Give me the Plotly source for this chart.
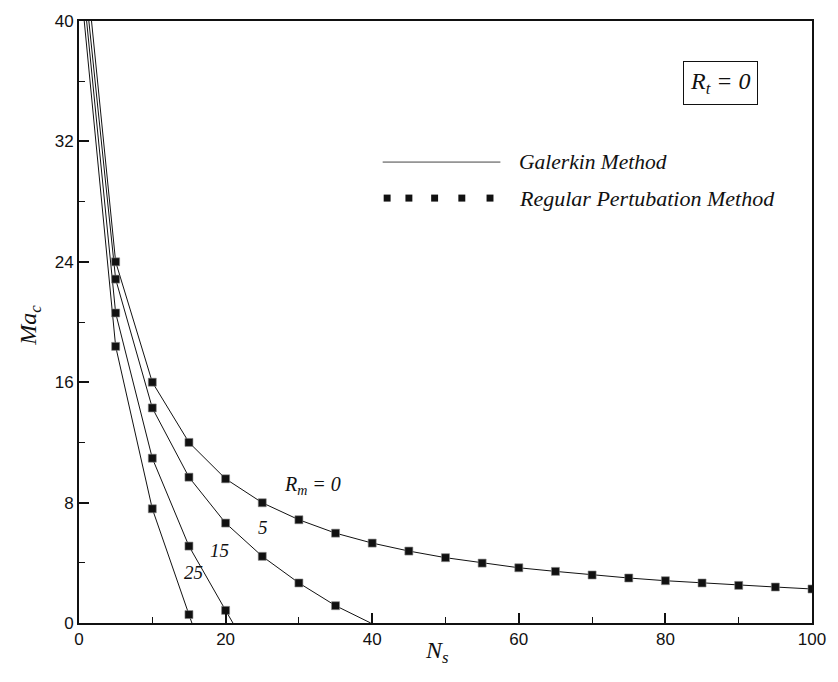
import plotly.graph_objects as go

# ---- data ----
# Galerkin method curves (lines)
gal_ns_rm0 = [0, 5, 10, 15, 20, 25, 30, 35, 40, 45, 50, 55, 60, 65, 70, 75, 80, 85, 90, 95, 100]
gal_ma_rm0 = [48.3, 24.0, 16.0, 12.0, 9.58, 7.99, 6.86, 5.97, 5.31, 4.78, 4.34, 3.98, 3.67, 3.43, 3.19, 2.99, 2.81, 2.66, 2.50, 2.39, 2.26]
gal_ns_rm5 = [0, 5, 10, 15, 20, 25, 30, 35, 39.8]
gal_ma_rm5 = [46.3, 22.85, 14.29, 9.69, 6.64, 4.43, 2.66, 1.15, 0.0]
gal_ns_rm15 = [0, 5, 10, 15, 20, 21.0]
gal_ma_rm15 = [45.1, 20.6, 10.95, 5.11, 0.84, 0.0]
gal_ns_rm25 = [0, 5, 10, 15, 15.4]
gal_ma_rm25 = [43.6, 18.38, 7.59, 0.56, 0.0]

# Regular perturbation method (square markers)
rp_ns_rm0 = [5, 10, 15, 20, 25, 30, 35, 40, 45, 50, 55, 60, 65, 70, 75, 80, 85, 90, 95, 100]
rp_ma_rm0 = [24.0, 16.0, 12.0, 9.58, 7.99, 6.86, 5.97, 5.31, 4.78, 4.34, 3.98, 3.67, 3.43, 3.19, 2.99, 2.81, 2.66, 2.50, 2.39, 2.26]
rp_ns_rm5 = [5, 10, 15, 20, 25, 30, 35]
rp_ma_rm5 = [22.85, 14.29, 9.69, 6.64, 4.43, 2.66, 1.15]
rp_ns_rm15 = [5, 10, 15, 20]
rp_ma_rm15 = [20.6, 10.95, 5.11, 0.84]
rp_ns_rm25 = [5, 10, 15]
rp_ma_rm25 = [18.38, 7.59, 0.56]

x_ticks = [0, 20, 40, 60, 80, 100]
y_ticks = [0, 8, 16, 24, 32, 40]

SERIF = "Liberation Serif, Times New Roman, serif"
SANS = "Liberation Sans"

fig = go.Figure()

for xs, ys in [(gal_ns_rm0, gal_ma_rm0), (gal_ns_rm5, gal_ma_rm5),
               (gal_ns_rm15, gal_ma_rm15), (gal_ns_rm25, gal_ma_rm25)]:
    fig.add_trace(go.Scatter(x=xs, y=ys, mode="lines",
                             line=dict(color="#111111", width=1),
                             showlegend=False, hoverinfo="skip"))

for xs, ys in [(rp_ns_rm0, rp_ma_rm0), (rp_ns_rm5, rp_ma_rm5),
               (rp_ns_rm15, rp_ma_rm15), (rp_ns_rm25, rp_ma_rm25)]:
    fig.add_trace(go.Scatter(x=xs, y=ys, mode="markers",
                             marker=dict(symbol="square", size=8, color="#111111",
                                         line=dict(width=0.6, color="#888888")),
                             showlegend=False))

# ---- geometry helpers (pixel -> paper) for legend decorations ----
L, R, T, B = 79, 820, 21, 622.7
def px(x):
    return (x - L) / (R - L)
def py(y):
    return (B - y) / (B - T)

shapes = []
# legend line
shapes.append(dict(type="line", xref="paper", yref="paper",
                   x0=px(386), x1=px(505), y0=py(162), y1=py(162),
                   line=dict(color="#444444", width=1)))
# legend squares
for cx in [390.5, 412.5, 438.5, 466, 494.5]:
    shapes.append(dict(type="rect", xref="paper", yref="paper",
                       x0=px(cx - 3.5), x1=px(cx + 3.5), y0=py(198 + 3.5), y1=py(198 - 3.5),
                       fillcolor="#111111", line=dict(width=0)))

def it(size):
    return dict(family=SERIF, size=size, color="#111111", style="italic")

annotations = [
    dict(text="Galerkin Method", xref="paper", yref="paper", x=px(522), y=py(162),
         xanchor="left", yanchor="middle", showarrow=False, font=it(21.5)),
    dict(text="Regular Pertubation Method", xref="paper", yref="paper", x=px(522), y=py(198),
         xanchor="left", yanchor="middle", showarrow=False, font=it(22)),
    dict(text="R<sub>t</sub> = 0", xref="paper", yref="paper", x=px(728), y=py(83),
         xanchor="center", yanchor="middle", showarrow=False,
         bordercolor="#111111", borderwidth=1, borderpad=6, bgcolor="white", font=it(24)),
    dict(text="R<sub>m</sub> = 0", xref="paper", yref="paper", x=px(284), y=py(485),
         xanchor="left", yanchor="middle", showarrow=False, font=it(20)),
    dict(text="5", xref="paper", yref="paper", x=px(265), y=py(527),
         xanchor="center", yanchor="middle", showarrow=False, font=it(19)),
    dict(text="15", xref="paper", yref="paper", x=px(221), y=py(550),
         xanchor="center", yanchor="middle", showarrow=False, font=it(19)),
    dict(text="25", xref="paper", yref="paper", x=px(195), y=py(572),
         xanchor="center", yanchor="middle", showarrow=False, font=it(19)),
    dict(text="Ma<sub>c</sub>", xref="paper", yref="paper", x=px(30), y=py(325),
         xanchor="center", yanchor="middle", showarrow=False, textangle=-90, font=it(24)),
    dict(text="N<sub>s</sub>", xref="paper", yref="paper", x=px(441), y=py(652),
         xanchor="center", yanchor="middle", showarrow=False, font=it(24)),
]

axis_common = dict(showline=True, linecolor="#111111", linewidth=2, mirror=True,
                   ticks="inside", ticklen=10, tickwidth=1.5, tickcolor="#111111",
                   showgrid=False, zeroline=False,
                   tickfont=dict(family=SANS, size=17, color="#111111"))

fig.update_layout(
    width=838, height=682,
    margin=dict(l=L, r=838 - R, t=T, b=682 - B),
    paper_bgcolor="white", plot_bgcolor="white",
    xaxis=dict(range=[0, 100], tickvals=x_ticks, ticktext=[str(v) for v in x_ticks],
               minor=dict(ticks="inside", ticklen=6, tickwidth=1.2, tickcolor="#111111", dtick=10,
                          showgrid=False),
               **axis_common),
    yaxis=dict(range=[0, 40], tickvals=y_ticks, ticktext=[str(v) for v in y_ticks],
               minor=dict(ticks="inside", ticklen=6, tickwidth=1.2, tickcolor="#111111", dtick=4,
                          showgrid=False),
               **axis_common),
    shapes=shapes,
    annotations=annotations,
    showlegend=False,
)

fig.write_html("out.html")
